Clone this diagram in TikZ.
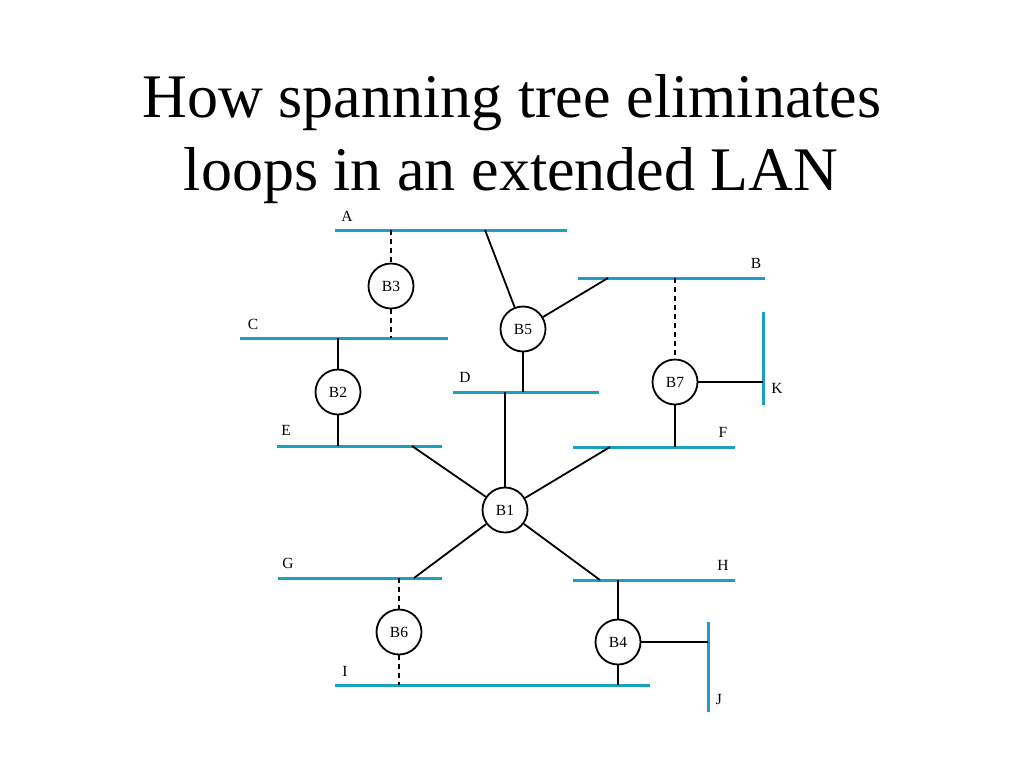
\documentclass[tikz,border=0pt]{standalone}
\usepackage{fontspec}
\setmainfont{Liberation Serif}
\definecolor{lancyan}{RGB}{26,160,192}
\begin{document}
\begin{tikzpicture}[x=1pt,y=-1pt,
  lan/.style={draw=lancyan,line width=3pt},
  bridge/.style={circle,draw=black,line width=1.8pt,minimum size=45pt,inner sep=0pt,font=\fontsize{15.5}{15.5}\selectfont},
  link/.style={draw=black,line width=1.8pt},
  off/.style={draw=black,line width=1.8pt,dash pattern=on 5pt off 4pt},
  lbl/.style={font=\fontsize{15.5}{15.5}\selectfont,inner sep=0pt},
  ttl/.style={font=\fontsize{62}{62}\selectfont,inner sep=0pt,anchor=base}]
\useasboundingbox (0,0) rectangle (1024,768);
\node[ttl] (title1) at (512,117) {How spanning tree eliminates};
\node[ttl] (title2) at (511,190) {loops in an extended LAN};
% LAN segments
\coordinate (A1) at (335,230); \coordinate (A2) at (567,230);
\coordinate (B1l) at (578,278); \coordinate (B2l) at (765,278);
\coordinate (C1) at (240,338); \coordinate (C2) at (448,338);
\coordinate (D1) at (453,392); \coordinate (D2) at (599,392);
\coordinate (E1) at (277,446); \coordinate (E2) at (442,446);
\coordinate (F1) at (573,447); \coordinate (F2) at (735,447);
\coordinate (G1) at (278,578); \coordinate (G2) at (442,578);
\coordinate (H1) at (573,580); \coordinate (H2) at (735,580);
\coordinate (I1) at (335,685); \coordinate (I2) at (650,685);
\coordinate (J1) at (708,622); \coordinate (J2) at (708,712);
\coordinate (K1) at (763,312); \coordinate (K2) at (763,405);
\draw[lan] (A1) -- (A2);
\draw[lan] (B1l) -- (B2l);
\draw[lan] (C1) -- (C2);
\draw[lan] (D1) -- (D2);
\draw[lan] (E1) -- (E2);
\draw[lan] (F1) -- (F2);
\draw[lan] (G1) -- (G2);
\draw[lan] (H1) -- (H2);
\draw[lan] (I1) -- (I2);
\draw[lan] (J1) -- (J2);
\draw[lan] (K1) -- (K2);
% labels
\node[lbl] (lA) at (347,216) {A};
\node[lbl] (lB) at (756,263) {B};
\node[lbl] (lC) at (253,324) {C};
\node[lbl] (lD) at (465,377) {D};
\node[lbl] (lE) at (286,430) {E};
\node[lbl] (lF) at (723,432) {F};
\node[lbl] (lG) at (288,563) {G};
\node[lbl] (lH) at (723,565) {H};
\node[lbl] (lI) at (345,671) {I};
\node[lbl] (lJ) at (719,699) {J};
\node[lbl] (lK) at (777,388) {K};
% bridges
\node[bridge] (b1) at (505,510) {B1};
\node[bridge] (b2) at (338,392) {B2};
\node[bridge] (b3) at (391,286) {B3};
\node[bridge] (b4) at (618,642) {B4};
\node[bridge] (b5) at (523,329) {B5};
\node[bridge] (b6) at (399,632) {B6};
\node[bridge] (b7) at (675,382) {B7};
% attachment points
\coordinate (pA3) at (391,230); \coordinate (pC3) at (391,338);
\coordinate (pC2) at (338,338); \coordinate (pE2) at (338,446);
\coordinate (pA5) at (485,230); \coordinate (pB5) at (608,278);
\coordinate (pD5) at (523,392); \coordinate (pD1) at (505,392);
\coordinate (pB7) at (675,278); \coordinate (pF7) at (675,447);
\coordinate (pK7) at (763,382);
\coordinate (pE1) at (412,446); \coordinate (pF1) at (610,447);
\coordinate (pG1) at (414,578); \coordinate (pH1) at (600,580);
\coordinate (pG6) at (399,578); \coordinate (pI6) at (399,685);
\coordinate (pH4) at (618,580); \coordinate (pI4) at (618,685);
\coordinate (pJ4) at (708,642);
% connectors
\draw[off] (pA3) -- (b3.north);
\draw[off] (b3.south) -- (pC3);
\draw[link] (pC2) -- (b2.north);
\draw[link] (b2.south) -- (pE2);
\draw[link] (pA5) -- (b5);
\draw[link] (b5) -- (pB5);
\draw[link] (b5.south) -- (pD5);
\draw[link] (pD1) -- (b1);
\draw[off] (pB7) -- (b7.north);
\draw[link] (b7.south) -- (pF7);
\draw[link] (b7.east) -- (pK7);
\draw[link] (pE1) -- (b1);
\draw[link] (pF1) -- (b1);
\draw[link] (pG1) -- (b1);
\draw[link] (pH1) -- (b1);
\draw[off] (pG6) -- (b6.north);
\draw[off] (b6.south) -- (pI6);
\draw[link] (pH4) -- (b4.north);
\draw[link] (b4.south) -- (pI4);
\draw[link] (b4.east) -- (pJ4);
\end{tikzpicture}
\end{document}
